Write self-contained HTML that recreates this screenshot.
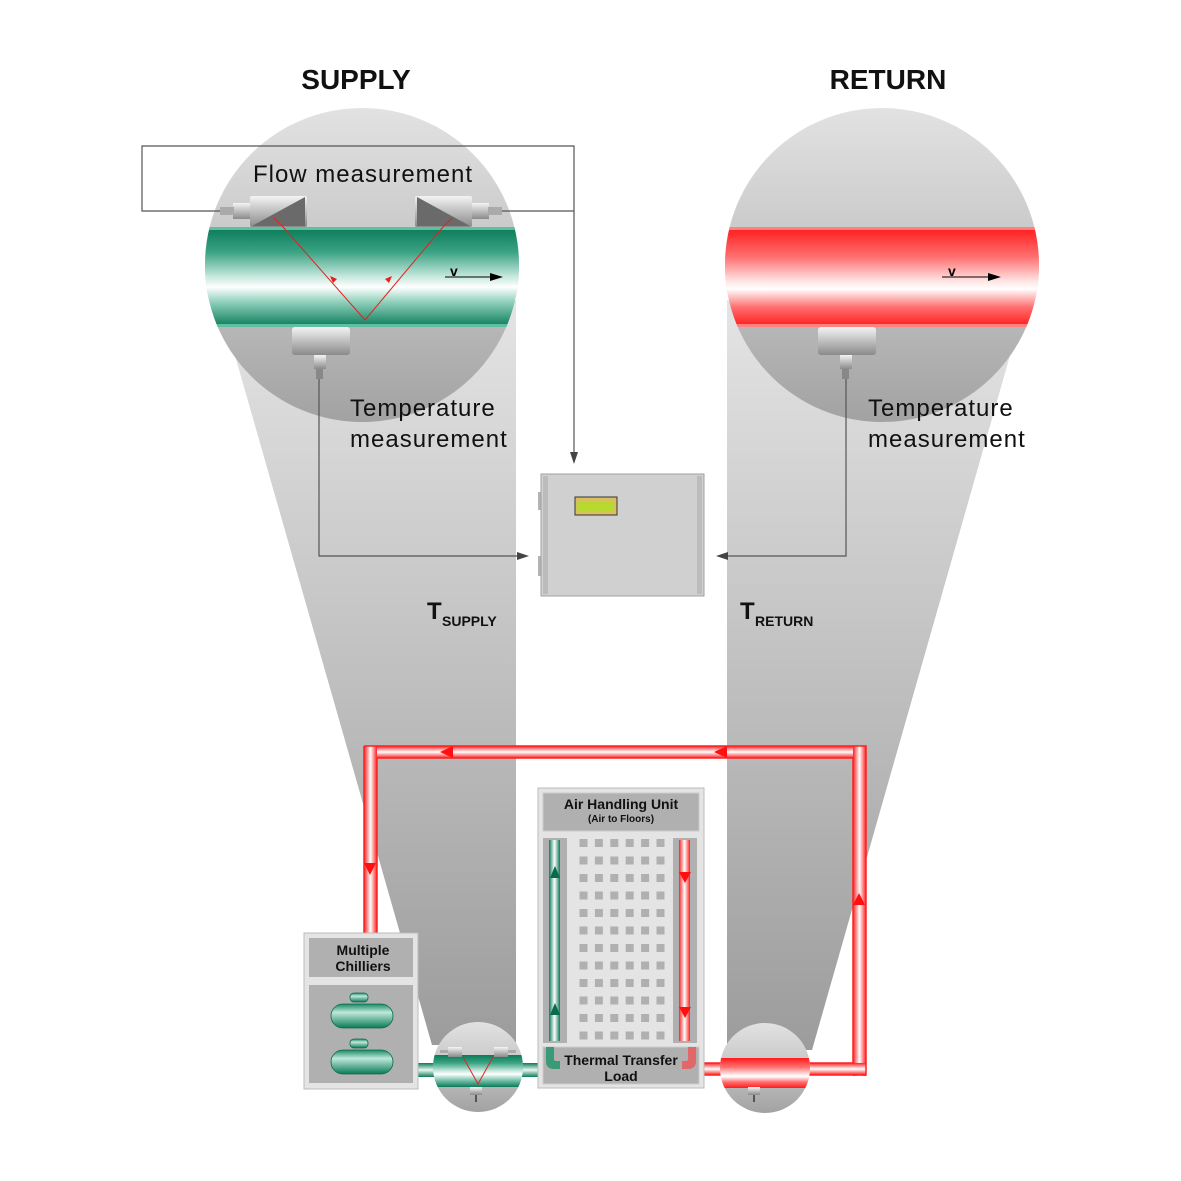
<!DOCTYPE html>
<html><head><meta charset="utf-8"><style>html,body{margin:0;padding:0;background:#fff}svg{display:block}text{font-family:"Liberation Sans",sans-serif}</style></head><body>
<svg width="1181" height="1181" viewBox="0 0 1181 1181" xmlns="http://www.w3.org/2000/svg">
<defs>
<linearGradient id="cone" x1="0" y1="0" x2="0" y2="1"><stop offset="0" stop-color="#e4e4e4"/><stop offset="1" stop-color="#9c9c9c"/></linearGradient>
<linearGradient id="circ" x1="0" y1="0" x2="0" y2="1"><stop offset="0" stop-color="#e2e2e2"/><stop offset="0.5" stop-color="#c4c4c4"/><stop offset="1" stop-color="#a2a2a2"/></linearGradient>
<linearGradient id="gp" x1="0" y1="0" x2="0" y2="1"><stop offset="0" stop-color="#0a7a58"/><stop offset="0.25" stop-color="#3aa383"/><stop offset="0.5" stop-color="#c9e9df"/><stop offset="0.6" stop-color="#ffffff"/><stop offset="0.75" stop-color="#8fd0bc"/><stop offset="1" stop-color="#0a7a58"/></linearGradient>
<linearGradient id="rp" x1="0" y1="0" x2="0" y2="1"><stop offset="0" stop-color="#ff1a1a"/><stop offset="0.3" stop-color="#ff7070"/><stop offset="0.55" stop-color="#ffe8e8"/><stop offset="0.62" stop-color="#ffffff"/><stop offset="0.8" stop-color="#ff7070"/><stop offset="1" stop-color="#ff1a1a"/></linearGradient>
<linearGradient id="rh" x1="0" y1="0" x2="0" y2="1"><stop offset="0" stop-color="#ff2020"/><stop offset="0.5" stop-color="#ffffff"/><stop offset="1" stop-color="#ff2020"/></linearGradient>
<linearGradient id="rv" x1="0" y1="0" x2="1" y2="0"><stop offset="0" stop-color="#ff2020"/><stop offset="0.5" stop-color="#ffffff"/><stop offset="1" stop-color="#ff2020"/></linearGradient>
<linearGradient id="gv" x1="0" y1="0" x2="1" y2="0"><stop offset="0" stop-color="#0a7a58"/><stop offset="0.5" stop-color="#ffffff"/><stop offset="1" stop-color="#0a7a58"/></linearGradient>
<linearGradient id="gh" x1="0" y1="0" x2="0" y2="1"><stop offset="0" stop-color="#0a7a58"/><stop offset="0.5" stop-color="#e8f7f2"/><stop offset="1" stop-color="#0a7a58"/></linearGradient>
<linearGradient id="met" x1="0" y1="0" x2="0" y2="1"><stop offset="0" stop-color="#f4f4f4"/><stop offset="1" stop-color="#8a8a8a"/></linearGradient>
<linearGradient id="tank" x1="0" y1="0" x2="0" y2="1"><stop offset="0" stop-color="#1a8a66"/><stop offset="0.35" stop-color="#bfe8da"/><stop offset="1" stop-color="#0a7a58"/></linearGradient>
<pattern id="grid" patternUnits="userSpaceOnUse" x="579.5" y="839" width="15.4" height="17.5"><rect x="0" y="0" width="8" height="8" fill="#b0b0b0"/></pattern>
<clipPath id="c1"><circle cx="362" cy="265" r="157"/></clipPath>
<clipPath id="c2"><circle cx="882" cy="265" r="157"/></clipPath>
<clipPath id="c3"><circle cx="478" cy="1067" r="45"/></clipPath>
<clipPath id="c4"><circle cx="765" cy="1068" r="45"/></clipPath>
</defs>

<polygon points="232,345 516,300 516,1045 432,1045" fill="url(#cone)"/>
<polygon points="727,300 1013,345 812,1050 727,1050" fill="url(#cone)"/>

<circle cx="362" cy="265" r="157" fill="url(#circ)"/>
<circle cx="882" cy="265" r="157" fill="url(#circ)"/>
<g clip-path="url(#c1)">
<rect x="200" y="227" width="330" height="100" fill="url(#gp)"/>
<rect x="200" y="227" width="330" height="3" fill="#5fbfa0"/>
<rect x="200" y="324" width="330" height="3" fill="#5fbfa0"/>
</g>
<g clip-path="url(#c2)">
<rect x="720" y="227" width="330" height="100" fill="url(#rp)"/>
<rect x="720" y="227" width="330" height="3" fill="#ff8080"/>
<rect x="720" y="324" width="330" height="3" fill="#ff8080"/>
</g>

<rect x="250" y="196" width="57" height="31" rx="2" fill="url(#met)"/>
<polygon points="252,226 305,197 305,226" fill="#6a6a6a"/>
<rect x="233" y="203" width="17" height="16" fill="url(#met)"/>
<rect x="220" y="207" width="14" height="8" fill="#aaa"/>
<rect x="415" y="196" width="57" height="31" rx="2" fill="url(#met)"/>
<polygon points="417,197 417,226 470,226" fill="#6a6a6a"/>
<rect x="472" y="203" width="17" height="16" fill="url(#met)"/>
<rect x="488" y="207" width="14" height="8" fill="#aaa"/>
<polyline points="274,218 283,227 365,320 443,227 452,218" fill="none" stroke="#e52020" stroke-width="1"/>
<polygon points="333,283 330,276 337,279" fill="#e52020"/>
<polygon points="389,283 385,279 392,276" fill="#e52020"/>
<text x="450" y="276" font-size="14" font-weight="bold" fill="#000">v</text>
<line x1="445" y1="277" x2="495" y2="277" stroke="#000" stroke-width="1"/><polygon points="503,277 490,273 490,281" fill="#000"/>
<text x="948" y="276" font-size="14" font-weight="bold" fill="#000">v</text>
<line x1="942" y1="277" x2="993" y2="277" stroke="#000" stroke-width="1"/><polygon points="1001,277 988,273 988,281" fill="#000"/>

<rect x="292" y="327" width="58" height="28" rx="3" fill="url(#met)"/>
<rect x="314" y="355" width="12" height="14" fill="url(#met)"/>
<rect x="316" y="369" width="7" height="10" fill="#888"/>
<rect x="818" y="327" width="58" height="28" rx="3" fill="url(#met)"/>
<rect x="840" y="355" width="12" height="14" fill="url(#met)"/>
<rect x="842" y="369" width="7" height="10" fill="#888"/>

<g fill="none" stroke="#555" stroke-width="1.2">
<polyline points="220,211 142,211 142,146 574,146 574,456"/>
<polyline points="502,211 574,211"/>
<polyline points="319,379 319,556 520,556"/>
<polyline points="846,379 846,556 726,556"/>
</g>
<polygon points="574,464 570,452 578,452" fill="#444"/>
<polygon points="529,556 517,552 517,560" fill="#444"/>
<polygon points="716,556 728,552 728,560" fill="#444"/>

<text x="356" y="89" font-size="28" font-weight="bold" text-anchor="middle" fill="#111">SUPPLY</text>
<text x="888" y="89" font-size="28" font-weight="bold" text-anchor="middle" fill="#111">RETURN</text>
<text x="363" y="182" font-size="24" letter-spacing="1" text-anchor="middle" fill="#111">Flow measurement</text>
<text x="350" y="416" font-size="24" letter-spacing="1" fill="#111">Temperature</text>
<text x="350" y="447" font-size="24" letter-spacing="1" fill="#111">measurement</text>
<text x="868" y="416" font-size="24" letter-spacing="1" fill="#111">Temperature</text>
<text x="868" y="447" font-size="24" letter-spacing="1" fill="#111">measurement</text>
<text x="427" y="619" font-size="24" font-weight="bold" fill="#111">T</text><text x="442" y="626" font-size="14" font-weight="bold" fill="#111">SUPPLY</text>
<text x="740" y="619" font-size="24" font-weight="bold" fill="#111">T</text><text x="755" y="626" font-size="14" font-weight="bold" fill="#111">RETURN</text>

<rect x="538" y="492" width="6" height="18" fill="#b4b4b4"/>
<rect x="538" y="556" width="6" height="20" fill="#b4b4b4"/>
<rect x="541" y="474" width="163" height="122" fill="#d0d0d0" stroke="#a0a0a0"/>
<rect x="543" y="476" width="5" height="118" fill="#bcbcbc"/>
<rect x="697" y="476" width="5" height="118" fill="#bcbcbc"/>
<rect x="575" y="497" width="42" height="18" fill="#d8c060" stroke="#333" stroke-width="1"/>
<rect x="578" y="501" width="36" height="10" fill="#b8d830"/>

<rect x="364" y="746" width="502" height="12" fill="url(#rh)"/>
<rect x="364" y="746" width="13" height="190" fill="url(#rv)"/>
<rect x="853" y="746" width="13" height="330" fill="url(#rv)"/>
<rect x="700" y="1063" width="166" height="12" fill="url(#rh)"/>
<path d="M364,746 H866 V1075 H700 M377,758 H853 V1063 H700 M364,746 V936 M377,758 V936" fill="none" stroke="#ff2020" stroke-width="1.5"/>
<polygon points="440,752 453,746 453,758" fill="#ff1010"/>
<polygon points="714,752 727,746 727,758" fill="#ff1010"/>
<polygon points="370,875 364,863 376,863" fill="#ff1010"/>
<polygon points="859,893 853,905 865,905" fill="#ff1010"/>

<rect x="418" y="1063" width="126" height="14" fill="url(#gh)"/>

<circle cx="478" cy="1067" r="45" fill="url(#circ)"/>
<g clip-path="url(#c3)">
<rect x="430" y="1055" width="100" height="32" fill="url(#gp)"/>
<polyline points="463,1057 478,1084 493,1057" fill="none" stroke="#e52020" stroke-width="1"/>
</g>
<rect x="448" y="1047" width="14" height="10" fill="url(#met)"/><rect x="494" y="1047" width="14" height="10" fill="url(#met)"/>
<rect x="440" y="1050" width="8" height="3" fill="#aaa"/><rect x="508" y="1050" width="8" height="3" fill="#aaa"/>
<rect x="470" y="1087" width="12" height="8" fill="url(#met)"/><rect x="475" y="1095" width="2" height="7" fill="#555"/>
<circle cx="765" cy="1068" r="45" fill="url(#circ)"/>
<g clip-path="url(#c4)"><rect x="715" y="1058" width="100" height="30" fill="url(#rp)"/></g>
<rect x="748" y="1087" width="12" height="8" fill="url(#met)"/><rect x="753" y="1095" width="2" height="7" fill="#555"/>

<rect x="538" y="788" width="166" height="300" fill="#e4e4e4" stroke="#bbb"/>
<rect x="543" y="793" width="156" height="38" fill="#b0b0b0" stroke="#ccc"/>
<text x="621" y="809" font-size="14" font-weight="bold" text-anchor="middle" fill="#111">Air Handling Unit</text>
<text x="621" y="822" font-size="10" font-weight="bold" text-anchor="middle" fill="#111">(Air to Floors)</text>
<rect x="543" y="838" width="24" height="205" fill="#b0b0b0"/>
<rect x="549" y="840" width="11" height="201" fill="url(#gv)"/>
<polygon points="555,866 550,878 560,878" fill="#0a6a4a"/><polygon points="555,1003 550,1015 560,1015" fill="#0a6a4a"/>
<rect x="673" y="838" width="24" height="205" fill="#b0b0b0"/>
<rect x="679" y="840" width="11" height="201" fill="url(#rv)"/>
<polygon points="685,883 679,872 691,872" fill="#ff1010"/><polygon points="685,1018 679,1007 691,1007" fill="#ff1010"/>
<rect x="579.5" y="839" width="90" height="205" fill="url(#grid)"/>
<rect x="543" y="1047" width="156" height="37" fill="#b0b0b0" stroke="#ccc"/>
<path d="M546,1047 v14 q0,8 8,8 h6 v-8 h-4 q-2,0 -2,-2 v-12 z" fill="#3a9a78"/>
<path d="M696,1047 v14 q0,8 -8,8 h-6 v-8 h4 q2,0 2,-2 v-12 z" fill="#e06868"/>
<text x="621" y="1065" font-size="14" font-weight="bold" text-anchor="middle" fill="#111">Thermal Transfer</text>
<text x="621" y="1081" font-size="14" font-weight="bold" text-anchor="middle" fill="#111">Load</text>

<rect x="304" y="933" width="114" height="156" fill="#e4e4e4" stroke="#bbb"/>
<rect x="309" y="938" width="104" height="39" fill="#b0b0b0"/>
<text x="363" y="955" font-size="14" font-weight="bold" text-anchor="middle" fill="#111">Multiple</text>
<text x="363" y="971" font-size="14" font-weight="bold" text-anchor="middle" fill="#111">Chilliers</text>
<rect x="309" y="985" width="104" height="98" fill="#b0b0b0"/>
<rect x="331" y="1004" width="62" height="24" rx="12" fill="url(#tank)" stroke="#0a6a4a" stroke-width="0.8"/>
<rect x="350" y="993" width="18" height="9" rx="4" fill="url(#tank)" stroke="#0a6a4a" stroke-width="0.8"/>
<rect x="331" y="1050" width="62" height="24" rx="12" fill="url(#tank)" stroke="#0a6a4a" stroke-width="0.8"/>
<rect x="350" y="1039" width="18" height="9" rx="4" fill="url(#tank)" stroke="#0a6a4a" stroke-width="0.8"/>
</svg>
</body></html>
